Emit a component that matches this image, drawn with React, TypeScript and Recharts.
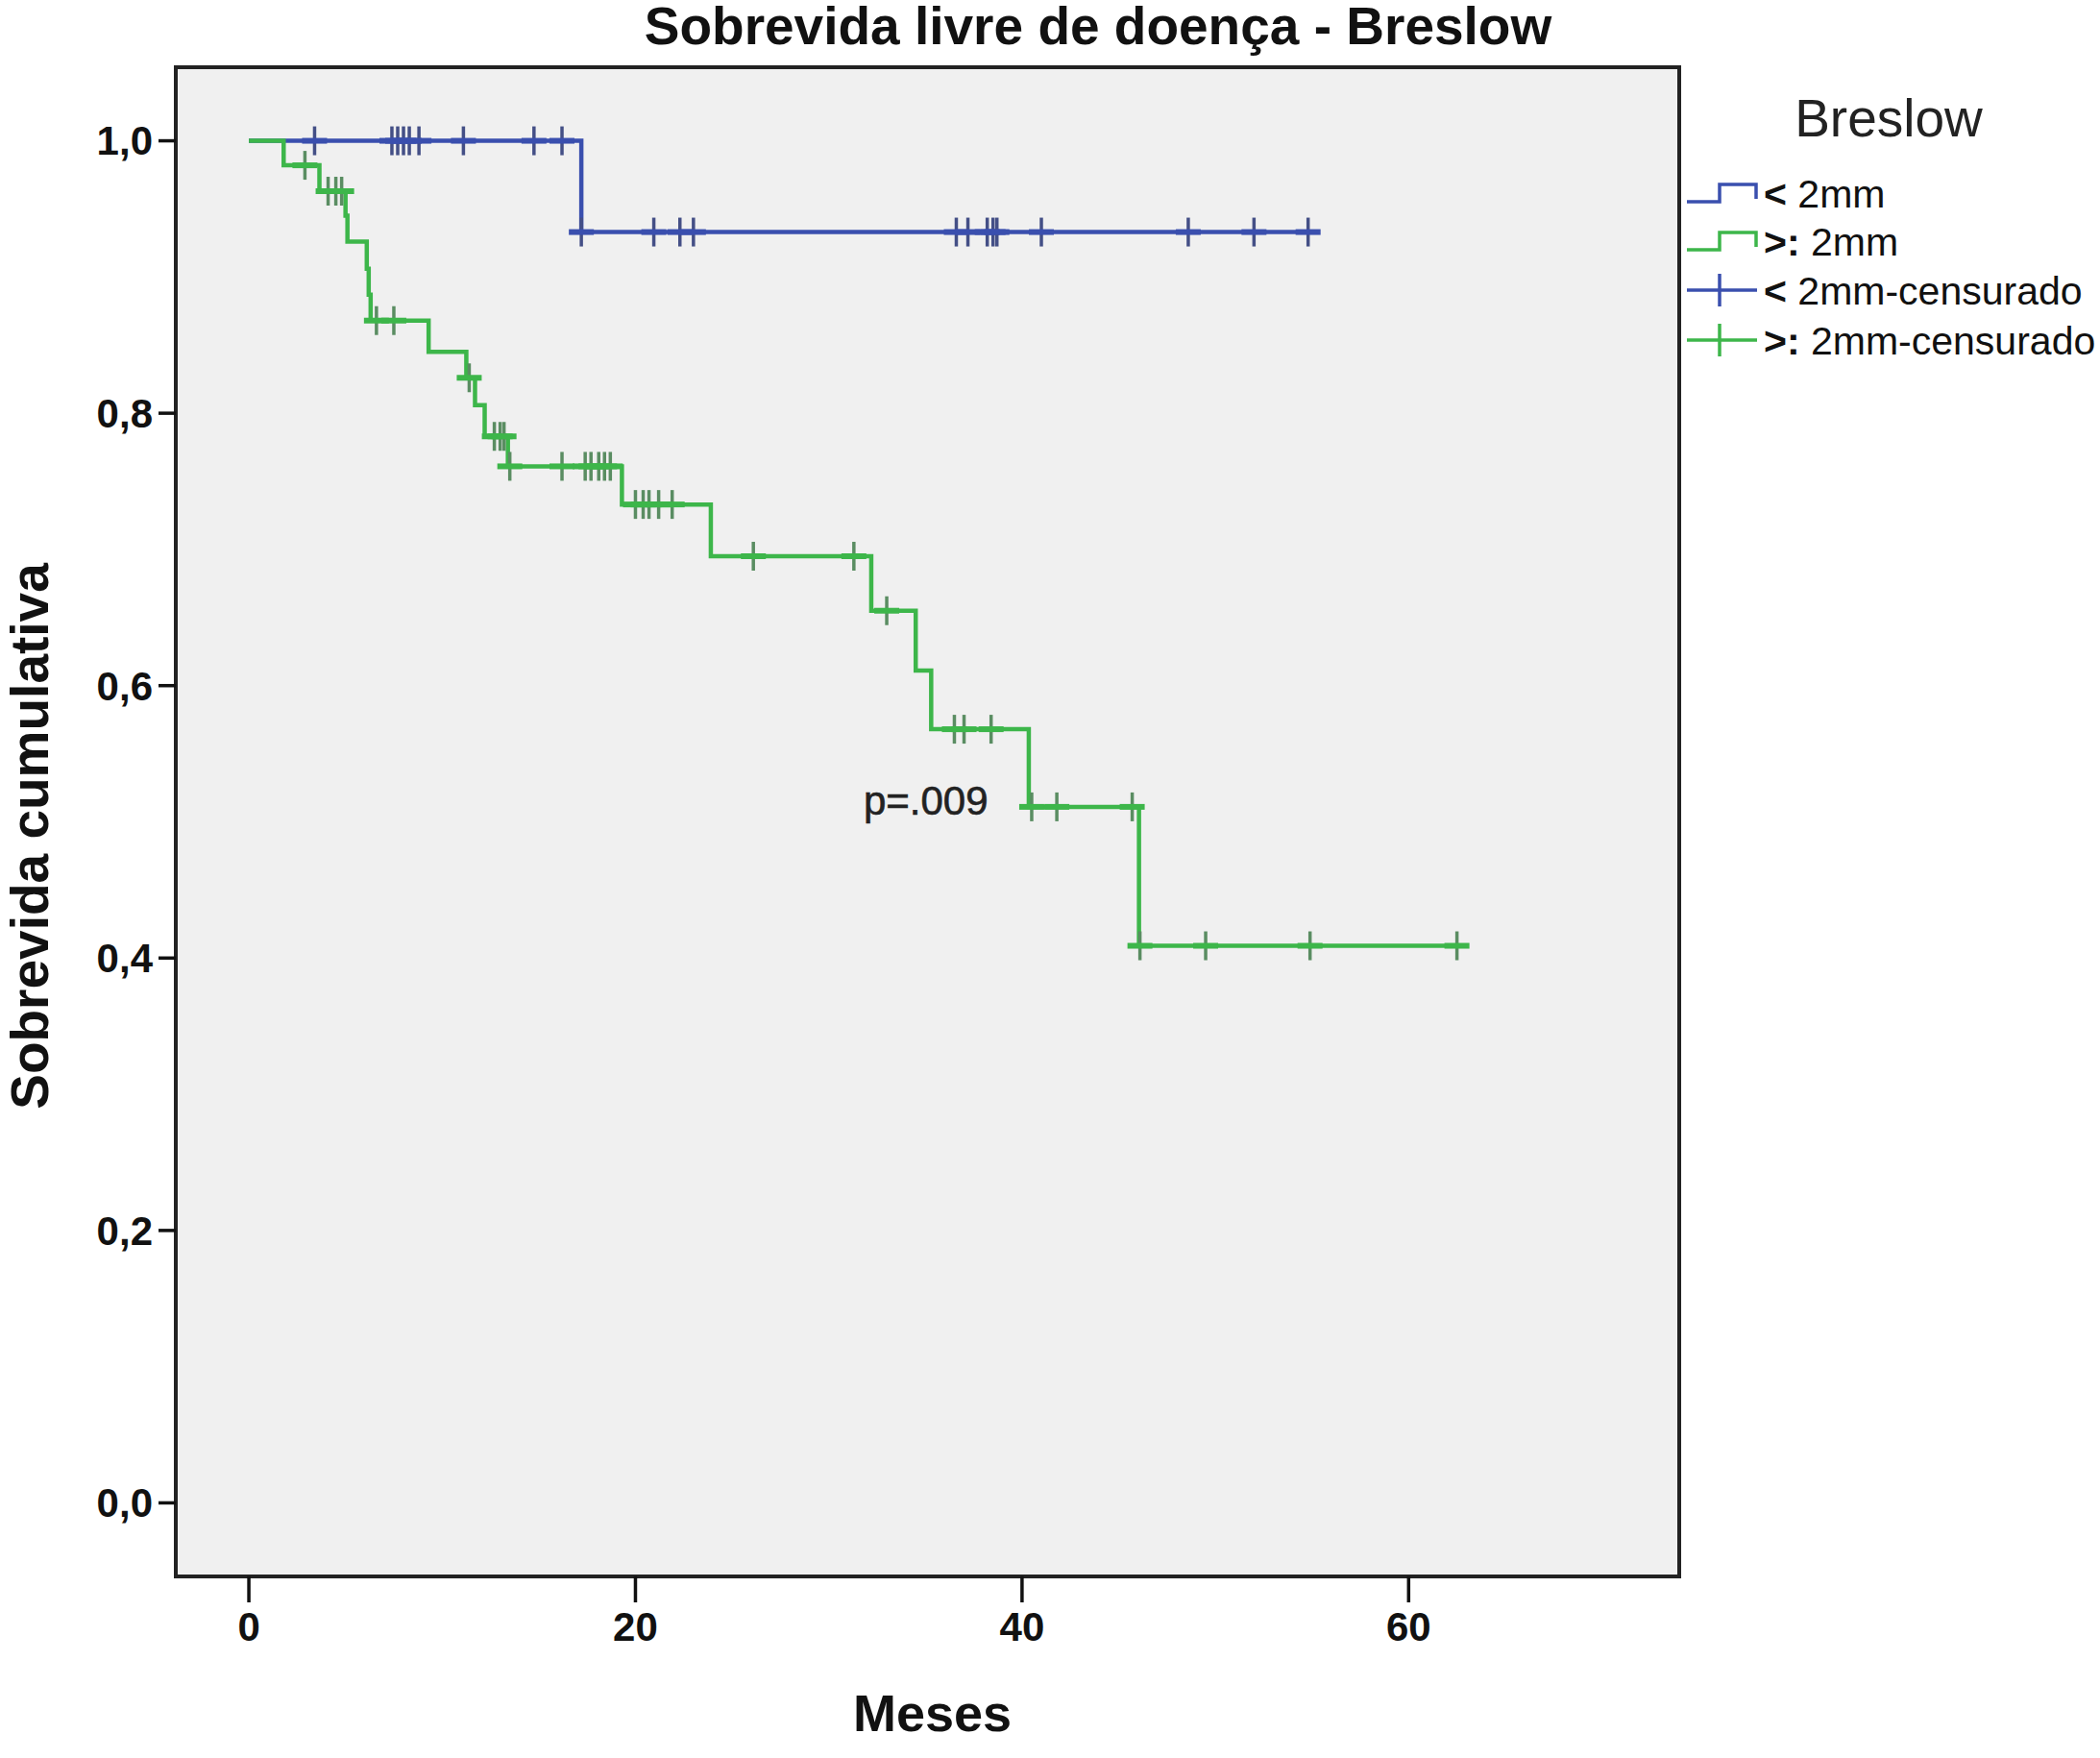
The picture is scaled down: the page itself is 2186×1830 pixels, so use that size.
import React from 'react';
import { ComposedChart, Line, Scatter, XAxis, YAxis, CartesianGrid, ReferenceArea, ReferenceDot, Legend, Label } from 'recharts';

// Kaplan-Meier steps (months, cumulative survival)
const blueTimes = [0, 17.2, 55.3];
const blueSurvival = [1.0, 0.933, 0.933];
const blueCensorTimes = [3.4, 7.4, 7.7, 8.0, 8.3, 8.8, 11.1, 14.75, 16.2, 17.2, 20.95, 22.3, 23.0, 36.6, 37.2, 38.2, 38.5, 38.7, 41.0, 48.6, 52.0, 54.8];

const greenTimes = [0, 1.8, 3.65, 5.0, 5.1, 6.1, 6.2, 6.3, 9.3, 11.25, 11.7, 12.2, 13.4, 19.3, 23.9, 32.2, 34.5, 35.3, 40.35, 46.05, 62.5];
const greenSurvival = [1.0, 0.982, 0.963, 0.945, 0.926, 0.906, 0.887, 0.868, 0.845, 0.826, 0.806, 0.783, 0.761, 0.733, 0.695, 0.655, 0.611, 0.568, 0.511, 0.409, 0.409];
const greenCensorTimes = [2.9, 4.1, 4.5, 4.8, 6.6, 7.5, 11.4, 12.7, 13.0, 13.2, 13.5, 16.2, 17.4, 17.7, 18.1, 18.4, 18.7, 20.0, 20.4, 20.7, 21.2, 21.9, 26.1, 31.3, 33.0, 36.5, 37.0, 38.4, 40.5, 41.8, 45.7, 46.1, 49.5, 54.9, 62.5];

const xTicks = [0, 20, 40, 60];
const yTicks = [0, 0.2, 0.4, 0.6, 0.8, 1.0];
const legendNames = ['< 2mm', '>: 2mm', '< 2mm-censurado', '>: 2mm-censurado'];

const BLUE = '#3a4fae';
const GREEN = '#3db64a';
const BLUE_TICK = '#444f86';
const GREEN_TICK = '#5a8d62';
const FONT = '"Liberation Sans", Arial, sans-serif';

const steps = (times: number[], surv: number[]) => times.map((t, i) => ({ x: t, y: surv[i] }));
const survAt = (times: number[], surv: number[], t: number) => {
  let s = surv[0];
  times.forEach((tt, i) => { if (tt <= t) s = surv[i]; });
  return s;
};
const censors = (ct: number[], times: number[], surv: number[]) => ct.map((t) => ({ x: t, y: survAt(times, surv, t) }));

const blueData = steps(blueTimes, blueSurvival);
const greenData = steps(greenTimes, greenSurvival);
const blueCensor = censors(blueCensorTimes, blueTimes, blueSurvival);
const greenCensor = censors(greenCensorTimes, greenTimes, greenSurvival);

const plus = (color: string, tickColor: string) => (props: any) => {
  const { cx, cy } = props;
  return (
    <g>
      <line x1={cx} x2={cx} y1={cy - 15} y2={cy + 15} stroke={tickColor} strokeWidth={3.5} />
      <line x1={cx - 13} x2={cx + 13} y1={cy} y2={cy} stroke={color} strokeWidth={6} />
    </g>
  );
};

const renderLegend = () => {
  const colors = [BLUE, GREEN, BLUE, GREEN];
  const rows = [121, 171, 222, 274];
  return (
    <svg width={436} height={320} style={{ fontFamily: FONT }}>
      <text x={216} y={62} fontSize={55} textAnchor="middle" fill="#222">Breslow</text>
      {legendNames.map((name, i) => {
        const cy = rows[i];
        const c = colors[i];
        const icon = i < 2
          ? <path d={`M6,${cy + 9} H40 V${cy - 9} H78 V${cy + 6}`} fill="none" stroke={c} strokeWidth={3.5} />
          : <g>
              <line x1={6} x2={79} y1={cy} y2={cy} stroke={c} strokeWidth={3.5} />
              <line x1={40} x2={40} y1={cy - 17} y2={cy + 17} stroke={c} strokeWidth={3.5} />
            </g>;
        const sym = name.startsWith('<') ? '<' : '>:';
        const rest = name.slice(sym.length);
        return (
          <g key={name}>
            {icon}
            <text x={86} y={cy + 15} fontSize={41} fill="#111">
              <tspan fontWeight={700}>{sym}</tspan>
              <tspan>{rest}</tspan>
            </text>
          </g>
        );
      })}
    </svg>
  );
};

export default function App() {
  const xDomain: [number, number] = [-3.78, 74];
  const yDomain: [number, number] = [-0.054, 1.054];
  return (
    <div style={{ position: 'absolute', left: 0, top: 0, width: 2186, height: 1830, background: '#fff', fontFamily: FONT }}>
      <div style={{ position: 'absolute', left: 0, top: 0, width: 2286, textAlign: 'center', fontSize: 55, lineHeight: '55px', fontWeight: 700, color: '#111' }}>
        Sobrevida livre de doença - Breslow
      </div>
      <ComposedChart width={2186} height={1830} margin={{ top: 70, right: 438, bottom: 0, left: 0 }}>
        <CartesianGrid horizontal={false} vertical={false} fill="#f0f0f0" />
        <XAxis
          dataKey="x"
          type="number"
          domain={xDomain}
          ticks={xTicks}
          allowDataOverflow
          axisLine={false}
          tickLine={{ stroke: '#111', strokeWidth: 3.5 }}
          tickSize={27}
          tickMargin={10}
          tick={{ fontSize: 42, fontWeight: 700, fill: '#111', fontFamily: FONT }}
          height={189}
        >
          <Label
            content={(p: any) => (
              <text x={p.viewBox.x + p.viewBox.width / 2 + 5} y={1802} textAnchor="middle" fontSize={54} fontWeight={700} fill="#111" fontFamily={FONT}>
                Meses
              </text>
            )}
          />
        </XAxis>
        <YAxis
          type="number"
          domain={yDomain}
          ticks={yTicks}
          allowDataOverflow
          axisLine={false}
          tickLine={{ stroke: '#111', strokeWidth: 3.5 }}
          tickSize={18}
          tickMargin={6}
          tickFormatter={(v: number) => v.toFixed(1).replace('.', ',')}
          tick={{ fontSize: 42, fontWeight: 700, fill: '#111', fontFamily: FONT }}
          width={183}
        >
          <Label
            content={(p: any) => {
              const cy = p.viewBox.y + p.viewBox.height / 2 + 15;
              return (
                <text x={31} y={cy} transform={`rotate(-90 31 ${cy})`} textAnchor="middle" dominantBaseline="central" fontSize={55} fontWeight={700} fill="#111" fontFamily={FONT}>
                  Sobrevida cumulativa
                </text>
              );
            }}
          />
        </YAxis>
        <ReferenceArea x1={xDomain[0]} x2={xDomain[1]} y1={yDomain[0]} y2={yDomain[1]} fill="none" stroke="#222" strokeWidth={4} fillOpacity={0} />
        <Line data={blueData} dataKey="y" type="stepAfter" stroke={BLUE} strokeWidth={4.5} dot={false} activeDot={false} isAnimationActive={false} />
        <Scatter data={blueCensor} dataKey="y" shape={plus(BLUE, BLUE_TICK)} isAnimationActive={false} />
        <Line data={greenData} dataKey="y" type="stepAfter" stroke={GREEN} strokeWidth={4.5} dot={false} activeDot={false} isAnimationActive={false} />
        <Scatter data={greenCensor} dataKey="y" shape={plus(GREEN, GREEN_TICK)} isAnimationActive={false} />
        <ReferenceDot
          x={31.8}
          y={0.505}
          r={0}
          shape={(p: any) => (
            <text x={p.cx} y={p.cy} fontSize={42} fill="#222" stroke="#222" strokeWidth={0.6} fontFamily={FONT}>p=.009</text>
          )}
        />
        <Legend layout="vertical" align="center" verticalAlign="middle" content={renderLegend} wrapperStyle={{ left: 1750, top: 80, width: 436, height: 320 }} />
      </ComposedChart>
    </div>
  );
}
